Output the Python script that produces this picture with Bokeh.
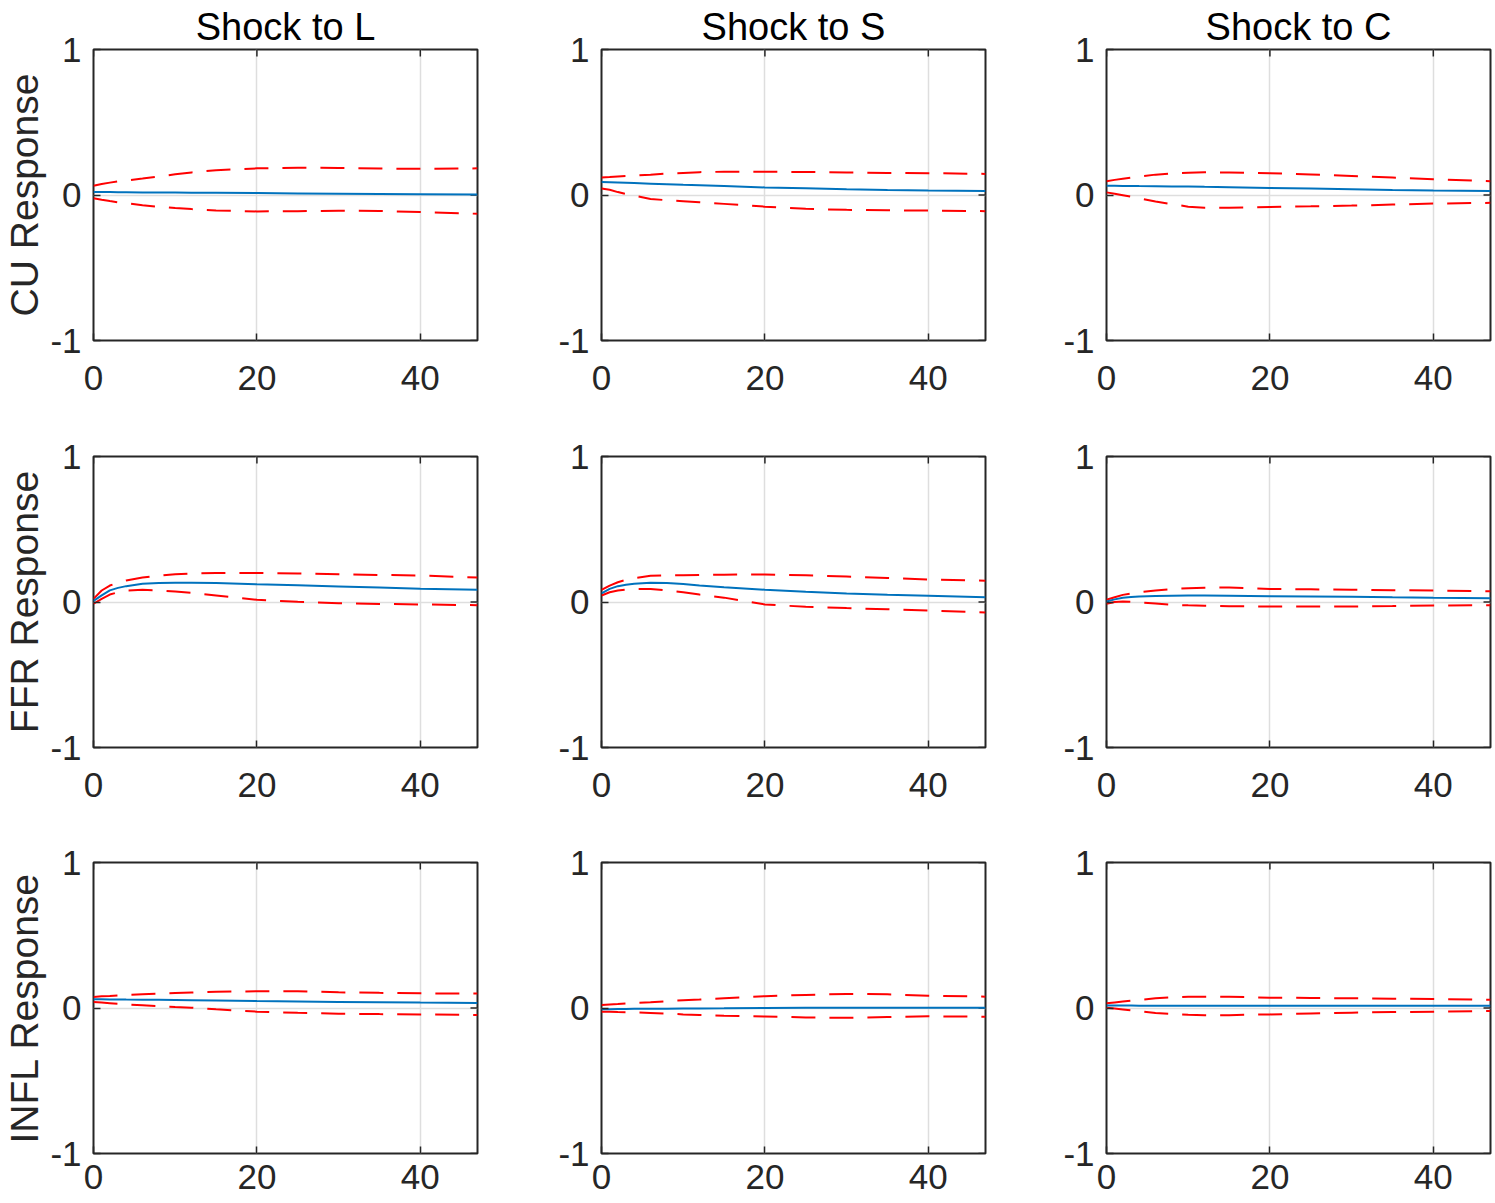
import math
from bokeh.plotting import figure
from bokeh.layouts import gridplot
from bokeh.models import Range1d, FixedTicker
from bokeh.embed import file_html
from bokeh.resources import INLINE

# ---------------- data ----------------
horizons = [0, 1, 2, 3, 4, 6, 8, 10, 12, 15, 20, 25, 30, 35, 40, 47]
shocks = ["L", "S", "C"]
responses = ["CU", "FFR", "INFL"]
x_ticks = [0, 20, 40]
y_ticks = [-1, 0, 1]
x_min, x_max = 0, 47
y_min, y_max = -1, 1

# CU response
cu_l_mid = [0.02, 0.02, 0.02, 0.019, 0.019, 0.018, 0.018, 0.017, 0.016, 0.015, 0.013, 0.011, 0.009, 0.007, 0.005, 0.003]
cu_l_up = [0.063, 0.075, 0.085, 0.093, 0.1, 0.113, 0.128, 0.142, 0.155, 0.17, 0.183, 0.188, 0.186, 0.182, 0.18, 0.183]
cu_l_lo = [-0.023, -0.033, -0.042, -0.05, -0.057, -0.07, -0.081, -0.09, -0.097, -0.106, -0.113, -0.111, -0.108, -0.11, -0.117, -0.129]

cu_s_mid = [0.09, 0.088, 0.086, 0.084, 0.082, 0.078, 0.074, 0.07, 0.067, 0.062, 0.052, 0.046, 0.04, 0.035, 0.031, 0.027]
cu_s_up = [0.12, 0.123, 0.127, 0.13, 0.134, 0.14, 0.147, 0.152, 0.157, 0.16, 0.16, 0.158, 0.155, 0.152, 0.15, 0.145]
cu_s_lo = [0.045, 0.036, 0.02, 0.007, -0.005, -0.027, -0.036, -0.043, -0.05, -0.061, -0.08, -0.095, -0.102, -0.105, -0.107, -0.111]

cu_c_mid = [0.063, 0.063, 0.062, 0.062, 0.061, 0.06, 0.059, 0.058, 0.056, 0.054, 0.048, 0.044, 0.04, 0.035, 0.031, 0.027]
cu_c_up = [0.095, 0.104, 0.112, 0.12, 0.127, 0.14, 0.148, 0.153, 0.156, 0.155, 0.15, 0.141, 0.131, 0.12, 0.109, 0.095]
cu_c_lo = [0.018, 0.009, -0.001, -0.011, -0.022, -0.045, -0.063, -0.08, -0.087, -0.087, -0.082, -0.078, -0.073, -0.066, -0.059, -0.054]

# FFR response
ffr_l_mid = [0.007, 0.045, 0.08, 0.097, 0.109, 0.125, 0.13, 0.132, 0.132, 0.13, 0.122, 0.115, 0.107, 0.099, 0.091, 0.084]
ffr_l_up = [0.022, 0.079, 0.113, 0.133, 0.148, 0.168, 0.182, 0.191, 0.196, 0.2, 0.2, 0.196, 0.191, 0.186, 0.182, 0.168]
ffr_l_lo = [-0.012, 0.022, 0.051, 0.067, 0.079, 0.084, 0.08, 0.072, 0.063, 0.045, 0.015, 0.001, -0.008, -0.013, -0.017, -0.022]

ffr_s_mid = [0.06, 0.09, 0.109, 0.118, 0.125, 0.132, 0.13, 0.124, 0.113, 0.102, 0.084, 0.07, 0.058, 0.05, 0.043, 0.033]
ffr_s_up = [0.084, 0.113, 0.136, 0.152, 0.164, 0.18, 0.183, 0.184, 0.186, 0.188, 0.189, 0.183, 0.175, 0.165, 0.155, 0.146]
ffr_s_lo = [0.045, 0.067, 0.079, 0.085, 0.088, 0.09, 0.079, 0.067, 0.051, 0.03, -0.017, -0.033, -0.042, -0.05, -0.058, -0.072]

ffr_c_mid = [0.003, 0.018, 0.029, 0.034, 0.038, 0.041, 0.043, 0.044, 0.045, 0.043, 0.04, 0.038, 0.036, 0.032, 0.029, 0.026]
ffr_c_up = [0.015, 0.033, 0.049, 0.059, 0.067, 0.079, 0.088, 0.095, 0.098, 0.1, 0.09, 0.087, 0.084, 0.081, 0.079, 0.074]
ffr_c_lo = [-0.012, 0.0, 0.003, 0.001, -0.003, -0.01, -0.019, -0.023, -0.026, -0.029, -0.031, -0.031, -0.031, -0.028, -0.024, -0.022]

# INFL response
infl_l_mid = [0.06, 0.06, 0.059, 0.059, 0.058, 0.057, 0.056, 0.055, 0.054, 0.052, 0.048, 0.045, 0.042, 0.04, 0.037, 0.034]
infl_l_up = [0.076, 0.08, 0.083, 0.087, 0.09, 0.094, 0.098, 0.103, 0.107, 0.112, 0.115, 0.115, 0.108, 0.104, 0.101, 0.099]
infl_l_lo = [0.041, 0.037, 0.033, 0.029, 0.025, 0.019, 0.013, 0.007, 0.002, -0.009, -0.025, -0.033, -0.039, -0.042, -0.044, -0.048]

infl_s_mid = [-0.008, -0.008, -0.007, -0.007, -0.006, -0.006, -0.005, -0.004, -0.003, -0.002, 0.0, 0.001, 0.001, 0.002, 0.002, 0.002]
infl_s_up = [0.021, 0.024, 0.027, 0.031, 0.034, 0.04, 0.047, 0.053, 0.058, 0.067, 0.081, 0.09, 0.097, 0.094, 0.085, 0.078]
infl_s_lo = [-0.025, -0.026, -0.028, -0.029, -0.03, -0.034, -0.038, -0.044, -0.048, -0.053, -0.058, -0.065, -0.067, -0.062, -0.057, -0.06]

infl_c_mid = [0.017, 0.017, 0.017, 0.017, 0.016, 0.016, 0.016, 0.016, 0.016, 0.016, 0.016, 0.016, 0.015, 0.015, 0.015, 0.015]
infl_c_up = [0.032, 0.038, 0.044, 0.05, 0.055, 0.067, 0.073, 0.077, 0.078, 0.077, 0.071, 0.069, 0.067, 0.064, 0.062, 0.057]
infl_c_lo = [0.002, -0.004, -0.01, -0.016, -0.022, -0.034, -0.042, -0.047, -0.05, -0.049, -0.044, -0.038, -0.032, -0.028, -0.025, -0.021]

panels = [
    [(cu_l_mid, cu_l_up, cu_l_lo), (cu_s_mid, cu_s_up, cu_s_lo), (cu_c_mid, cu_c_up, cu_c_lo)],
    [(ffr_l_mid, ffr_l_up, ffr_l_lo), (ffr_s_mid, ffr_s_up, ffr_s_lo), (ffr_c_mid, ffr_c_up, ffr_c_lo)],
    [(infl_l_mid, infl_l_up, infl_l_lo), (infl_s_mid, infl_s_up, infl_s_lo), (infl_c_mid, infl_c_up, infl_c_lo)],
]

# ---------------- style ----------------
FONT = "Liberation Sans"
AX = "#262626"
GRID = "#dedede"
BLUE = "#0072BD"
RED = "#FF0000"

FRAME_W, FRAME_H = 384, 291
BORDER_L = [93, 60, 60]
BORDER_R = [64, 61, 4]
BORDER_T = [49, 25, 25]
BORDER_B = [91, 90, 50]
XLABEL_STANDOFF = [25, 25, 11]

rows = []
for i, resp in enumerate(responses):
    row = []
    for j, sh in enumerate(shocks):
        p = figure(
            frame_width=FRAME_W, frame_height=FRAME_H,
            x_range=Range1d(x_min, x_max), y_range=Range1d(y_min, y_max),
            output_backend="svg", toolbar_location=None,
            min_border_left=BORDER_L[j], min_border_right=BORDER_R[j],
            min_border_top=BORDER_T[i], min_border_bottom=BORDER_B[i],
            background_fill_color="white", border_fill_color="white",
        )
        if i == 0:
            p.title.text = f"Shock to {sh}"
            p.title.text_font = FONT
            p.title.text_font_size = "38px"
            p.title.text_font_style = "normal"
            p.title.text_color = "#000000"
            p.title.align = "center"
            p.title.vertical_align = "top"
            p.title.standoff = 0
            p.title.offset = 0

        p.xaxis.ticker = FixedTicker(ticks=x_ticks)
        p.yaxis.ticker = FixedTicker(ticks=y_ticks)
        p.yaxis.major_label_overrides = {-1: "-1", 0: "0", 1: "1"}

        for ax in p.axis:
            ax.axis_line_color = None
            ax.major_tick_in = 7
            ax.major_tick_out = 0
            ax.minor_tick_line_color = None
            ax.major_tick_line_color = AX
            ax.major_tick_line_width = 1.5
            ax.major_label_text_font = FONT
            ax.major_label_text_color = AX
            ax.major_label_text_font_size = "35px"

        p.xaxis.major_label_standoff = XLABEL_STANDOFF[i]
        p.yaxis.major_label_standoff = 12

        if j == 0:
            p.yaxis.axis_label = f"{resp} Response"
            p.yaxis.axis_label_text_font = FONT
            p.yaxis.axis_label_text_font_size = "39px"
            p.yaxis.axis_label_text_font_style = "normal"
            p.yaxis.axis_label_text_color = AX
            p.yaxis.axis_label_standoff = 1

        p.xgrid.ticker = FixedTicker(ticks=x_ticks)
        p.ygrid.ticker = FixedTicker(ticks=y_ticks)
        p.grid.grid_line_color = GRID
        p.grid.grid_line_width = 1.5

        p.outline_line_color = AX
        p.outline_line_width = 2
        p.outline_line_alpha = 1

        # mirror (box) ticks on the top and right edges, clipped to the frame
        p.scatter(x_ticks, [y_max] * len(x_ticks), marker="dash", angle=math.pi / 2,
                  size=14, line_color=AX, line_width=1.5)
        p.scatter([x_max] * len(y_ticks), y_ticks, marker="dash",
                  size=14, line_color=AX, line_width=1.5)

        mid, up, lo = panels[i][j]
        p.line(horizons, up, line_color=RED, line_width=2, line_dash="24 14")
        p.line(horizons, lo, line_color=RED, line_width=2, line_dash="24 14")
        p.line(horizons, mid, line_color=BLUE, line_width=2)

        row.append(p)
    rows.append(row)

grid = gridplot(rows, toolbar_location=None)

open("out.html", "w").write(file_html(grid, INLINE))
